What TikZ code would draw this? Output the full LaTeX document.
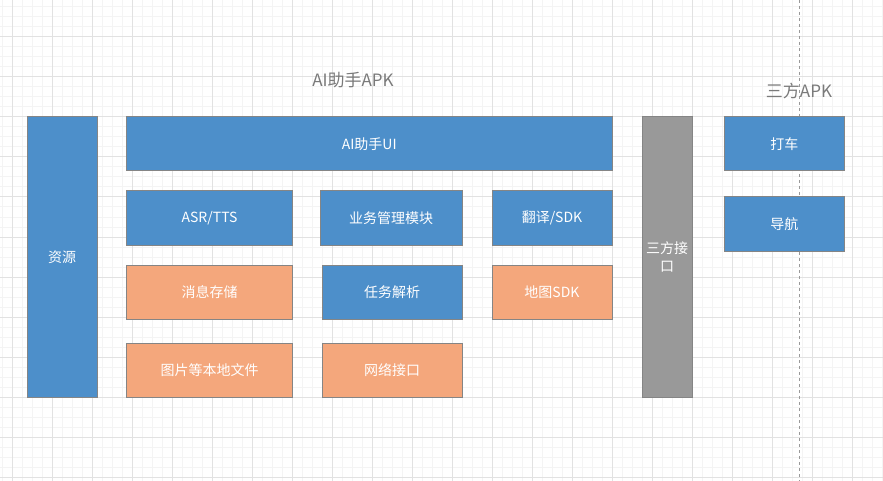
\documentclass[tikz,border=0pt]{standalone}
\usepackage{fontspec}
\setmainfont{Noto Sans CJK SC}
\definecolor{boxblue}{HTML}{4D8FCA}
\definecolor{boxorange}{HTML}{F4A77C}
\definecolor{boxgray}{HTML}{999999}
\definecolor{boxline}{HTML}{858585}
\definecolor{gridmajor}{HTML}{E2E2E2}
\definecolor{gridminor}{HTML}{F4F4F4}
\definecolor{titlegray}{HTML}{7A7A7A}
\begin{document}
\begin{tikzpicture}[x=1pt,y=-1pt,
  box/.style={draw=boxline,line width=1pt,rectangle,inner sep=0pt,text=white,
    font=\fontsize{14}{18}\selectfont,align=center},
  bluebox/.style={box,fill=boxblue},
  orangebox/.style={box,fill=boxorange},
  graybox/.style={box,fill=boxgray},
  title/.style={text=titlegray,font=\fontsize{17}{20}\selectfont}]
  \useasboundingbox (0,0) rectangle (883,481);
  \fill[white] (0,0) rectangle (883,481);
  % grid
  \foreach \x in {2,12,...,882} \draw[gridminor,line width=1pt] (\x,0) -- (\x,481);
  \foreach \y in {7,17,...,477} \draw[gridminor,line width=1pt] (0,\y) -- (883,\y);
  \foreach \x in {12,52,...,852} \draw[gridmajor,line width=1pt] (\x,0) -- (\x,481);
  \foreach \y in {37,77,...,477} \draw[gridmajor,line width=1pt] (0,\y) -- (883,\y);
  \draw[boxgray,line width=1pt,dash pattern=on 3pt off 3pt] (799.5,0) -- (799.5,481);
  % labels
  \node[title] (apk) at (353,80) {AI助手APK};
  \node[title] (third) at (799,91) {三方APK};
  % boxes
  \node[bluebox,minimum width=70pt,minimum height=280pt] (res) at (62,257) {资源};
  \node[bluebox,minimum width=485.5pt,minimum height=54pt] (ui) at (369.25,144) {AI助手UI};
  \node[bluebox,minimum width=166pt,minimum height=54pt] (asr) at (209.5,218) {ASR/TTS};
  \node[bluebox,minimum width=142pt,minimum height=54pt] (biz) at (391,218) {业务管理模块};
  \node[bluebox,minimum width=120pt,minimum height=54pt] (trans) at (552,218) {翻译/SDK};
  \node[orangebox,minimum width=166pt,minimum height=54pt] (msg) at (209.5,292) {消息存储};
  \node[bluebox,minimum width=140pt,minimum height=54pt] (task) at (392,292) {任务解析};
  \node[orangebox,minimum width=120pt,minimum height=54pt] (map) at (552,292) {地图SDK};
  \node[orangebox,minimum width=166pt,minimum height=54pt] (file) at (209.5,370) {图片等本地文件};
  \node[orangebox,minimum width=140pt,minimum height=54pt] (net) at (392,370) {网络接口};
  \node[graybox,minimum width=50pt,minimum height=280pt] (api) at (667,257) {三方接\\口};
  \node[bluebox,minimum width=120.5pt,minimum height=54pt] (taxi) at (784.25,144) {打车};
  \node[bluebox,minimum width=120.5pt,minimum height=54pt] (nav) at (784.25,224) {导航};
\end{tikzpicture}
\end{document}
